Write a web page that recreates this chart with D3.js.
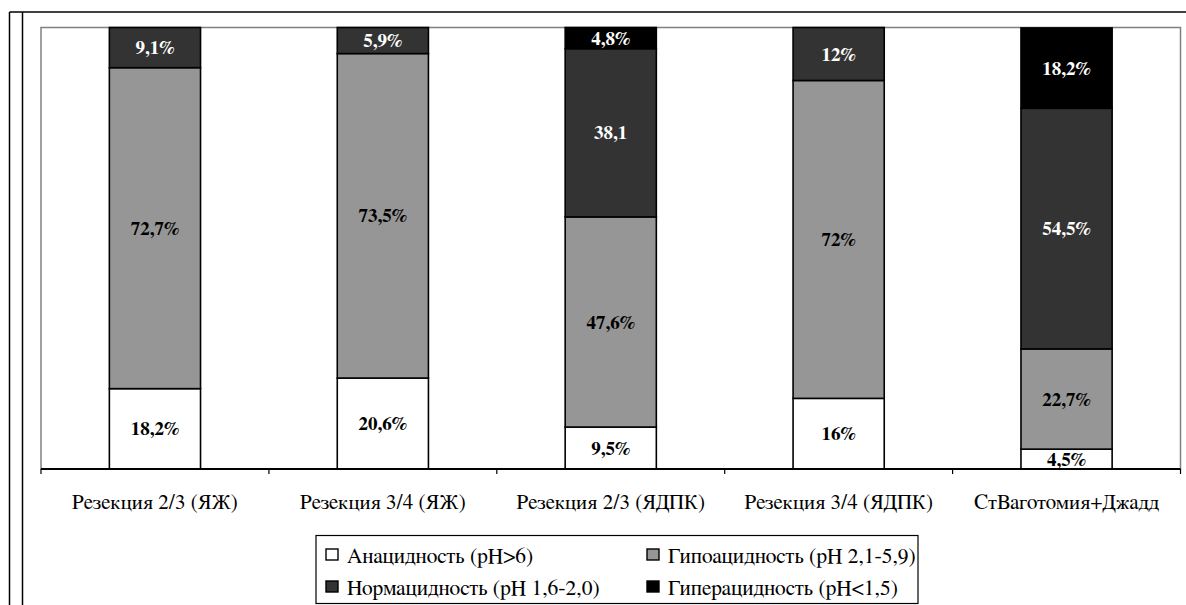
<!DOCTYPE html>
<html>
<head>
<meta charset="utf-8">
<script src="https://cdn.jsdelivr.net/npm/d3@7"></script>
<style>
  body { margin: 0; background: #fff; }
  svg { display: block; }
</style>
</head>
<body>
<svg id="chart" width="1186" height="605"></svg>
<script>
// Groups of patients (operation type)
const categories = [
  "Резекция 2/3 (ЯЖ)",
  "Резекция 3/4 (ЯЖ)",
  "Резекция 2/3 (ЯДПК)",
  "Резекция 3/4 (ЯДПК)",
  "СтВаготомия+Джадд"
];

// Acidity classes, bottom to top of each bar
const seriesNames = [
  "Анацидность (pH>6)",
  "Гипоацидность (pH 2,1-5,9)",
  "Нормацидность (pH 1,6-2,0)",
  "Гиперацидность (pH<1,5)"
];

// Share of patients (%) per class
const anacid   = [18.2, 20.6, 9.5, 16, 4.5];
const hypoacid = [72.7, 73.5, 47.6, 72, 22.7];
const normacid = [9.1, 5.9, 38.1, 12, 54.5];
const hyperacid = [0, 0, 4.8, 0, 18.2];

// Printed labels for each segment
const anacidLabels   = ["18,2%", "20,6%", "9,5%", "16%", "4,5%"];
const hypoacidLabels = ["72,7%", "73,5%", "47,6%", "72%", "22,7%"];
const normacidLabels = ["9,1%", "5,9%", "38,1", "12%", "54,5%"];
const hyperacidLabels = ["", "", "4,8%", "", "18,2%"];

const seriesColors = ["#ffffff", "#969696", "#333333", "#000000"];
const labelColors = ["#000000", "#000000", "#ffffff", "#ffffff"];

const seriesValues = [anacid, hypoacid, normacid, hyperacid];
const seriesLabels = [anacidLabels, hypoacidLabels, normacidLabels, hyperacidLabels];

const rows = categories.map((c, i) => {
  const r = { category: c };
  seriesNames.forEach((s, k) => { r[s] = seriesValues[k][i]; });
  return r;
});

const FONT = "FreeSerif, 'Liberation Serif', serif";
const svg = d3.select("#chart").style("font-family", FONT);

// Outer frame lines
svg.append("line").attr("x1", 9.5).attr("x2", 1186).attr("y1", 12).attr("y2", 12)
  .attr("stroke", "#000").attr("stroke-width", 1.5);
svg.append("line").attr("x1", 9.5).attr("x2", 9.5).attr("y1", 12).attr("y2", 605)
  .attr("stroke", "#000").attr("stroke-width", 1.5);
svg.append("line").attr("x1", 22.5).attr("x2", 22.5).attr("y1", 12).attr("y2", 605)
  .attr("stroke", "#000").attr("stroke-width", 1.5);

const plot = { left: 41, right: 1180.5, top: 27.5, bottom: 469 };

const x = d3.scaleBand().domain(categories).range([plot.left, plot.right]).paddingInner(0).paddingOuter(0);
const y = d3.scaleLinear().domain([0, 100]).range([plot.bottom, plot.top]);

// Plot area border
svg.append("rect")
  .attr("x", plot.left).attr("y", plot.top)
  .attr("width", plot.right - plot.left).attr("height", plot.bottom - plot.top)
  .attr("fill", "#fff").attr("stroke", "#808080").attr("stroke-width", 1.5);

const stacked = d3.stack().keys(seriesNames)(rows);

const barW = x.bandwidth() * 0.4;

const layers = svg.append("g").selectAll("g")
  .data(stacked)
  .join("g")
  .attr("fill", (d, k) => seriesColors[k]);

layers.selectAll("rect")
  .data(d => d.filter(p => p[1] - p[0] > 0))
  .join("rect")
  .attr("x", p => x(p.data.category) + (x.bandwidth() - barW) / 2)
  .attr("y", p => y(p[1]))
  .attr("width", barW)
  .attr("height", p => y(p[0]) - y(p[1]))
  .attr("stroke", "#000")
  .attr("stroke-width", 1.6);

// Segment labels
stacked.forEach((layer, k) => {
  layer.forEach((p, i) => {
    const txt = seriesLabels[k][i];
    if (!txt || p[1] - p[0] <= 0) return;
    svg.append("text")
      .attr("x", x(p.data.category) + x.bandwidth() / 2)
      .attr("y", (y(p[0]) + y(p[1])) / 2)
      .attr("dy", "0.35em")
      .attr("text-anchor", "middle")
      .attr("font-size", 19)
      .attr("font-weight", "bold")
      .attr("fill", labelColors[k])
      .text(txt);
  });
});

// Category axis
const axis = d3.axisBottom(x).tickSize(0).tickPadding(0);
const gx = svg.append("g").attr("transform", `translate(0,${plot.bottom})`).call(axis)
  .attr("font-family", null).attr("font-size", null);
gx.select(".domain").attr("stroke", "#000").attr("stroke-width", 2)
  .attr("d", `M${plot.left},0H${plot.right}`);
gx.selectAll(".tick text")
  .attr("y", 33)
  .attr("dy", "0.35em")
  .attr("font-size", 21)
  .attr("fill", "#000");

// Tick marks at category boundaries
const bounds = categories.map(c => x(c)).concat([plot.right]);
gx.selectAll(".bound").data(bounds).join("line")
  .attr("class", "bound")
  .attr("x1", d => d).attr("x2", d => d)
  .attr("y1", 0).attr("y2", 5)
  .attr("stroke", "#000").attr("stroke-width", 1.2);

// Legend
const legend = svg.append("g");
legend.append("rect")
  .attr("x", 316).attr("y", 535.5).attr("width", 602).attr("height", 68)
  .attr("fill", "#fff").attr("stroke", "#000").attr("stroke-width", 1.2);

const legendPos = [
  { sx: 326, ty: 555 },
  { sx: 647, ty: 555 },
  { sx: 326, ty: 587 },
  { sx: 647, ty: 587 }
];
seriesNames.forEach((s, k) => {
  const p = legendPos[k];
  legend.append("rect")
    .attr("x", p.sx).attr("y", p.ty - 6).attr("width", 12).attr("height", 11)
    .attr("fill", seriesColors[k]).attr("stroke", "#000").attr("stroke-width", 1.4);
  legend.append("text")
    .attr("x", p.sx + 21).attr("y", p.ty).attr("dy", "0.35em")
    .attr("font-size", 21.5).attr("fill", "#000")
    .text(s);
});
</script>
</body>
</html>
